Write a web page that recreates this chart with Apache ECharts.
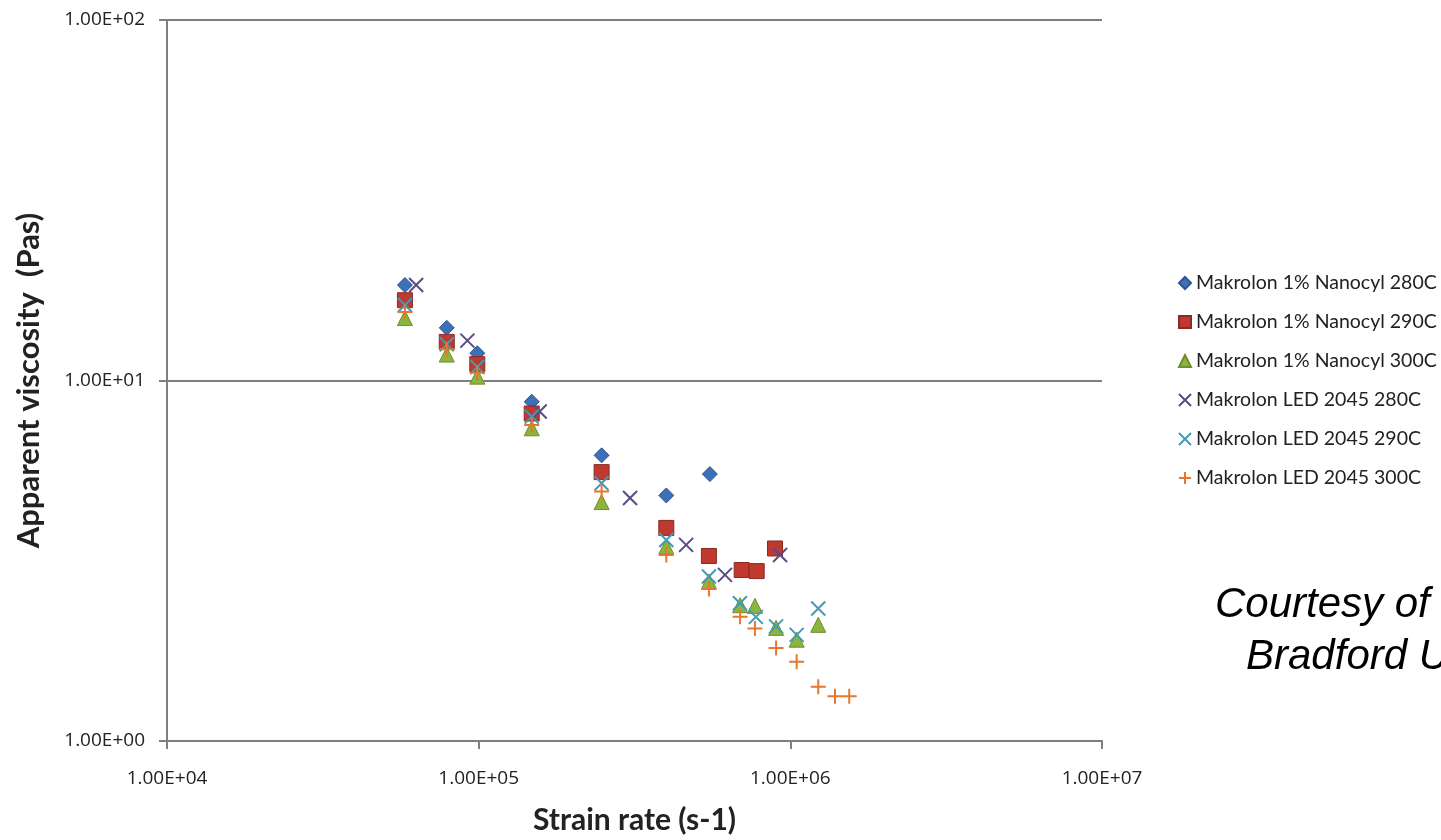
<!DOCTYPE html>
<html>
<head>
<meta charset="utf-8">
<script src="https://cdn.jsdelivr.net/npm/echarts@6/dist/echarts.min.js"></script>
<style>
html,body{margin:0;padding:0;background:#fff;}
#chart{width:1441px;height:840px;}
</style>
</head>
<body>
<div id="chart"></div>
<script>
// ---- data ----
const seriesNames = [
  'Makrolon 1% Nanocyl 280C',
  'Makrolon 1% Nanocyl 290C',
  'Makrolon 1% Nanocyl 300C',
  'Makrolon LED 2045 280C',
  'Makrolon LED 2045 290C',
  'Makrolon LED 2045 300C'
];
const rateNano280 = [58000, 79000, 99000, 148000, 248000, 400000, 552000];
const viscNano280 = [18.4, 14.0, 11.9, 8.73, 6.2, 4.8, 5.5];

const rateNano290 = [58000, 79000, 99000, 148000, 248000, 400000, 548000, 698000, 780000, 893000];
const viscNano290 = [16.7, 12.8, 11.1, 8.1, 5.57, 3.9, 3.26, 2.98, 2.96, 3.42];

const rateNano300 = [58000, 79000, 99000, 148000, 248000, 400000, 548000, 690000, 770000, 900000, 1048000, 1229000];
const viscNano300 = [14.9, 11.8, 10.25, 7.37, 4.6, 3.46, 2.77, 2.38, 2.37, 2.06, 1.91, 2.10];

const rateLed280 = [63000, 92000, 157000, 306000, 463000, 617000, 927000];
const viscLed280 = [18.4, 12.9, 8.2, 4.72, 3.5, 2.89, 3.28];

const rateLed290 = [58000, 79000, 99000, 148000, 248000, 400000, 548000, 689000, 775000, 900000, 1048000, 1229000];
const viscLed290 = [16.2, 12.6, 10.9, 7.94, 5.19, 3.61, 2.86, 2.41, 2.21, 2.08, 1.97, 2.33];

const rateLed300 = [58000, 79000, 99000, 148000, 248000, 400000, 548000, 690000, 770000, 900000, 1048000, 1229000, 1391000, 1545000];
const viscLed300 = [15.5, 12.2, 10.5, 7.52, 4.92, 3.28, 2.64, 2.21, 2.05, 1.81, 1.66, 1.415, 1.33, 1.33];

const xTickValues = [1e4, 1e5, 1e6, 1e7];
const yTickValues = [1, 10, 100];

// ---- build ----
function zip(xs, ys){ return xs.map((x,i)=>[x, ys[i]]); }
function sci(v){
  const e = Math.round(Math.log10(v));
  const s = (e < 0 ? '-' : '+') + String(Math.abs(e)).padStart(2,'0');
  return '1.00E' + s;
}
const X_PATH = 'path://M0,0L10,10M10,0L0,10';
const PLUS_PATH = 'path://M5,0L5,10M0,5L10,5';

const styles = [
  {symbol:'diamond', size:15, item:{color:'#3E70B8', borderColor:'#2C5590', borderWidth:1}},
  {symbol:'rect', size:15, item:{color:'#C0392F', borderColor:'#8B2A22', borderWidth:1}},
  {symbol:'triangle', size:15, item:{color:'#8DB43E', borderColor:'#6E8F2C', borderWidth:1}},
  {symbol:X_PATH, size:14, item:{color:'rgba(0,0,0,0)', borderColor:'#5B4B85', borderWidth:2}},
  {symbol:X_PATH, size:14, item:{color:'rgba(0,0,0,0)', borderColor:'#3E9CB8', borderWidth:2}},
  {symbol:PLUS_PATH, size:15, item:{color:'rgba(0,0,0,0)', borderColor:'#E8772E', borderWidth:2}}
];
const dataSets = [
  zip(rateNano280, viscNano280),
  zip(rateNano290, viscNano290),
  zip(rateNano300, viscNano300),
  zip(rateLed280, viscLed280),
  zip(rateLed290, viscLed290),
  zip(rateLed300, viscLed300)
];

const FONT = 'Lato';
const TICKFONT = 'Open Sans';
const chart = echarts.init(document.getElementById('chart'), null, {renderer:'canvas'});
chart.setOption({
  animation:false,
  backgroundColor:'#ffffff',
  grid:{left:167, right:339, top:20, bottom:99, containLabel:false, outerBoundsMode:'none'},
  xAxis:{
    type:'log', logBase:10, min:1e4, max:1e7,
    name:'Strain rate (s-1)', nameLocation:'middle', nameGap:64, nameMoveOverlap:false,
    nameTextStyle:{fontFamily:FONT, fontWeight:'bold', fontSize:30, color:'#222'},
    axisLine:{show:true, lineStyle:{color:'#7f7f7f', width:2}},
    axisTick:{show:true, inside:false, length:8, lineStyle:{color:'#7f7f7f', width:2}},
    axisLabel:{fontFamily:TICKFONT, fontSize:19, color:'#222', margin:28, formatter:(v)=>sci(v), showMinLabel:true, showMaxLabel:true},
    splitLine:{show:false},
    minorTick:{show:false}
  },
  yAxis:{
    type:'log', logBase:10, min:1, max:100,
    name:'Apparent viscosity  (Pas)', nameLocation:'middle', nameGap:123, nameRotate:90, nameMoveOverlap:false,
    nameTextStyle:{fontFamily:FONT, fontWeight:'bold', fontSize:31, color:'#222'},
    axisLine:{show:true, lineStyle:{color:'#7f7f7f', width:2}},
    axisTick:{show:true, inside:false, length:8, lineStyle:{color:'#7f7f7f', width:2}},
    axisLabel:{fontFamily:TICKFONT, fontSize:19, color:'#222', margin:22, formatter:(v)=>sci(v)},
    splitLine:{show:true, lineStyle:{color:'#7f7f7f', width:2}},
    minorTick:{show:false}
  },
  legend:{
    orient:'vertical', left:1178, top:273, itemGap:19, padding:0,
    itemWidth:12, itemHeight:12,
    textStyle:{fontFamily:FONT, fontSize:19.5, lineHeight:20, color:'#222'},
    data:seriesNames
  },
  graphic:[
    {type:'text', left:1215, top:584, style:{text:'Courtesy of', font:'italic 42px "Liberation Sans"', fill:'#000'}},
    {type:'text', left:1246, top:636, style:{text:'Bradford University', font:'italic 42px "Liberation Sans"', fill:'#000'}}
  ],
  series: seriesNames.map((n,i)=>({
    name:n, type:'scatter', data:dataSets[i],
    symbol:styles[i].symbol, symbolSize:styles[i].size,
    itemStyle:Object.assign({opacity:1}, styles[i].item),
    emphasis:{disabled:true}
  }))
});
</script>
</body>
</html>
